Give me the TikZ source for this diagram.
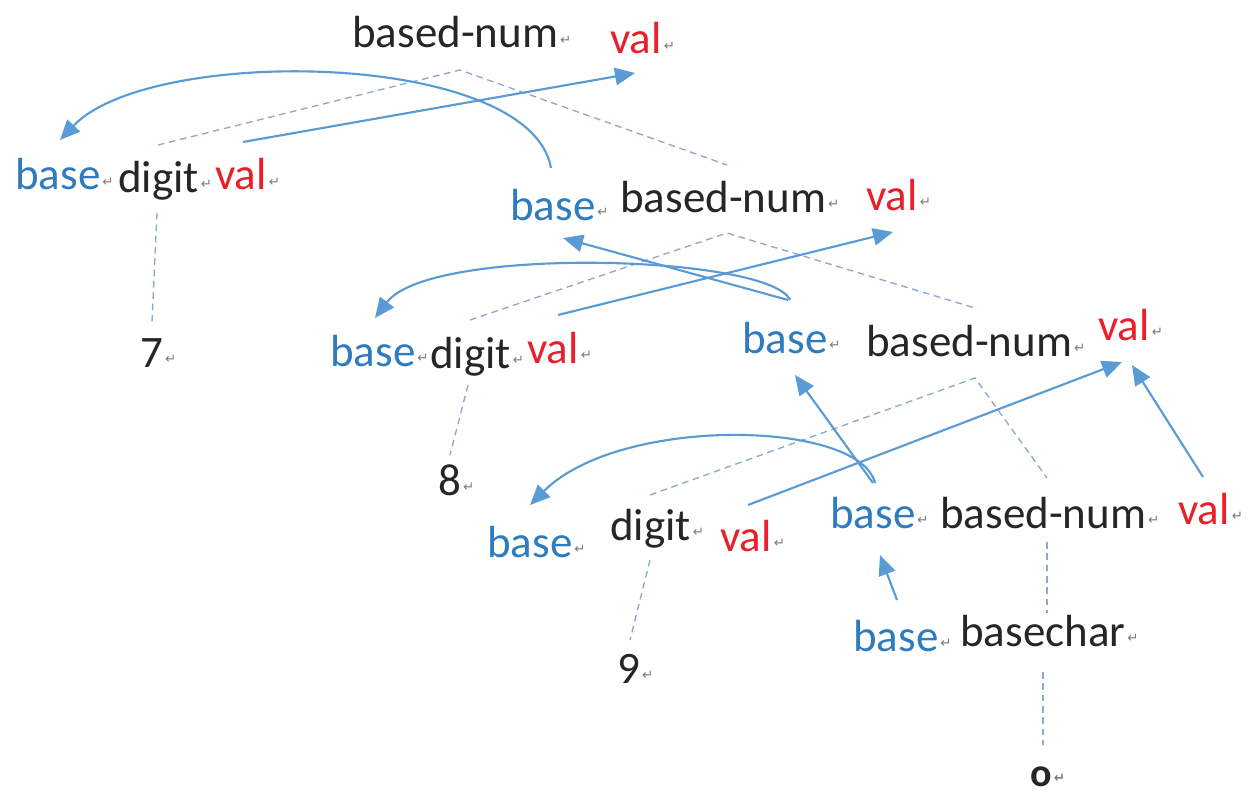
\documentclass[tikz,border=0pt]{standalone}
\usepackage{fontspec}
\setmainfont{Carlito}
\newfontfamily\djv{DejaVu Sans}
\usetikzlibrary{arrows.meta,calc}
\definecolor{tblue}{HTML}{2E7BC0}
\definecolor{tred}{HTML}{E8202A}
\definecolor{abl}{HTML}{5B9BD5}
\definecolor{dsh}{HTML}{8DA9CE}
\definecolor{mk}{HTML}{7A7A7A}
\newcommand{\rmk}{\hspace{1.5pt}\raisebox{2.5pt}{\djv\fontsize{10}{10}\selectfont\color{mk}↵}}
\begin{document}
\begin{tikzpicture}[x=0.75pt,y=-0.75pt,
 w/.style={inner sep=0pt,anchor=base west,font=\fontsize{33.75}{40}\selectfont,text=black!85},
 bs/.style={w,text=tblue}, vl/.style={w,text=tred},
 tr/.style={draw=dsh,line width=1pt,dash pattern=on 5pt off 3.5pt},
 ar/.style={draw=abl,line width=1.6pt,-{Triangle[length=15pt,width=13pt]}}]
\useasboundingbox[fill=white] (0,0) rectangle (1255,795);
% words
\node[w] (bn1) at (352,48) {based-num\rmk};
\node[vl] (v1) at (610,54) {val\rmk};
\node[bs] (b2l) at (15,190) {base\rmk};
\node[w] (d7) at (118,192) {digit\rmk};
\node[vl] (v2l) at (215,190) {val\rmk};
\node[w] (n7) at (140,367) {7\rmk};
\node[bs] (b2) at (510,220) {base\rmk};
\node[w] (bn2) at (620,212) {based-num\rmk};
\node[vl] (v2) at (866,210) {val\rmk};
\node[bs] (b3l) at (330,366) {base\rmk};
\node[w] (d8) at (430,368) {digit\rmk};
\node[vl] (v3l) at (527,363) {val\rmk};
\node[w] (n8) at (438,495) {8\rmk};
\node[bs] (b3) at (742,353) {base\rmk};
\node[w] (bn3) at (866,356) {based-num\rmk};
\node[vl] (v3) at (1098,340) {val\rmk};
\node[bs] (b4l) at (487,557) {base\rmk};
\node[w] (d9) at (610,540) {digit\rmk};
\node[vl] (v4l) at (720,551) {val\rmk};
\node[w] (n9) at (617,683) {9\rmk};
\node[bs] (b4) at (830,528) {base\rmk};
\node[w] (bn4) at (940,528) {based-num\rmk};
\node[vl] (v4) at (1178,524) {val\rmk};
\node[bs] (b5) at (853,651) {base\rmk};
\node[w] (bc) at (960,646) {basechar\rmk};
\node[w,font=\fontsize{30}{34}\selectfont\bfseries] (no) at (1030,786) {o\rmk};
% tree (dashed)
\draw[tr] ($(d7.base west)+(40,-47)$) -- ($(bn1.base west)+(108,22)$) -- ($(bn2.base west)+(107,-47)$);
\draw[tr] ($(d7.base west)+(39,21)$) -- ($(n7.base west)+(12,-45)$);
\draw[tr] ($(d8.base west)+(40,-48)$) -- ($(bn2.base west)+(107,21)$) -- ($(bn3.base west)+(109,-48)$);
\draw[tr] ($(d8.base west)+(38,17)$) -- ($(n8.base west)+(12,-40)$);
\draw[tr] ($(d9.base west)+(40,-45)$) -- ($(bn3.base west)+(109,22)$) -- ($(bn4.base west)+(107,-50)$);
\draw[tr] ($(d9.base west)+(40,20)$) -- ($(n9.base west)+(13,-43)$);
\draw[tr] ($(bn4.base west)+(107,14)$) -- ($(bc.base west)+(87,-33)$);
\draw[tr] ($(bc.base west)+(83,26)$) -- ($(no.base west)+(13,-41)$);
% attribute arrows
\draw[ar] ($(b2.base west)+(41,-52)$) .. controls +(-21,-118) and +(90,-95) .. ($(b2l.base west)+(45,-50)$);
\draw[ar] ($(v2l.base west)+(28,-48)$) -- ($(v1.base west)+(25,19)$);
\draw[ar] ($(b3.base west)+(48,-53)$) .. controls +(-20,-45) and +(55,-73) .. ($(b3l.base west)+(45,-48)$);
\draw[ar] ($(b3.base west)+(46,-53)$) -- ($(b2.base west)+(53,18)$);
\draw[ar] ($(v3l.base west)+(31,-48)$) -- ($(v2.base west)+(27,22)$);
\draw[ar] ($(b4.base west)+(45,-45)$) .. controls +(-15,-63) and +(90,-90) .. ($(b4l.base west)+(43,-52)$);
\draw[ar] ($(b4.base west)+(43,-45)$) -- ($(b3.base west)+(53,22)$);
\draw[ar] ($(v4l.base west)+(28,-46)$) -- ($(v3.base west)+(24,22)$);
\draw[ar] ($(v4.base west)+(25,-47)$) -- ($(v3.base west)+(34,25)$);
\draw[ar] ($(b5.base west)+(44,-51)$) -- ($(b4.base west)+(50,27)$);
\end{tikzpicture}
\end{document}
